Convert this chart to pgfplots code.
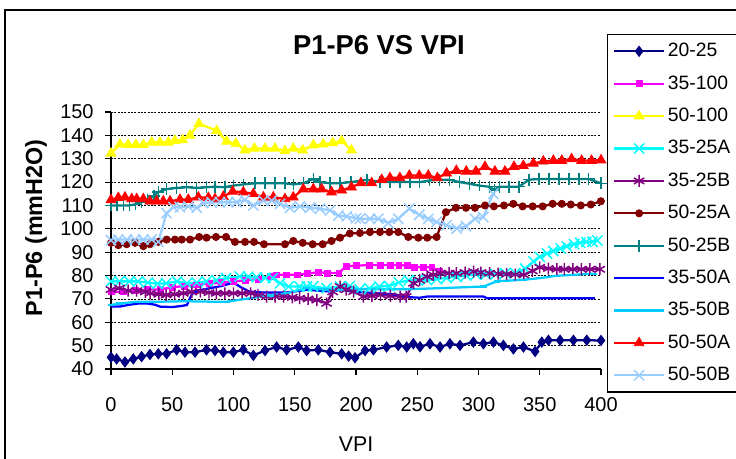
\documentclass[border=0pt]{standalone}
\usepackage{pgfplots}
\pgfplotsset{compat=1.18}
\usepackage{fontspec}
\setmainfont{Liberation Sans}
\definecolor{cnavy}{HTML}{000080}
\definecolor{cmag}{HTML}{FF00FF}
\definecolor{cyel}{HTML}{FFFF00}
\definecolor{ccyan}{HTML}{00FFFF}
\definecolor{cpurp}{HTML}{800080}
\definecolor{cdred}{HTML}{800000}
\definecolor{cteal}{HTML}{008080}
\definecolor{cblue}{HTML}{0000FF}
\definecolor{csky}{HTML}{00CCFF}
\definecolor{cred}{HTML}{FF0000}
\definecolor{clblue}{HTML}{99CCFF}
\newcommand{\lgd}[1]{\makebox[52pt][l]{#1}}
\begin{document}
\begin{tikzpicture}
\useasboundingbox (0pt,0pt) rectangle (552pt,344.25pt);
\clip (0pt,0pt) rectangle (552pt,344.25pt);
\draw[line width=1pt] (3.75pt,-20pt) -- (3.75pt,336.75pt) -- (600pt,336.75pt);
\begin{axis}[
  at={(83.25pt,67.5pt)}, anchor=south west,
  scale only axis, width=367.5pt, height=192.75pt,
  xmin=0, xmax=400, ymin=40, ymax=150,
  xtick={0,50,...,400}, ytick={40,50,...,150},
  axis x line*=bottom, axis y line*=left,
  axis line style={-, line width=1pt},
  tick align=outside, major tick length=4.5pt,
  tick style={black, line width=0.8pt},
  ymajorgrids, major grid style={black, line width=0.6pt, dash pattern=on 1.5pt off 1pt},
  clip=false,
  /pgf/number format/assume math mode=true,
  tick label style={font=\fontsize{15}{17}\selectfont},
  xticklabel style={anchor=center, yshift=-22pt},
  yticklabel style={anchor=east, xshift=-5pt},
  title={P1-P6 VS VPI},
  title style={font=\bfseries\fontsize{20.5}{24}\selectfont, at={(rel axis cs:0.547,1.23)}, anchor=center},
  xlabel={VPI},
  xlabel style={font=\fontsize{16}{18}\selectfont, at={(rel axis cs:0.5,-0.292)}, anchor=center},
  ylabel={P1-P6 (mmH2O)},
  ylabel style={font=\bfseries\fontsize{17.5}{20}\selectfont, at={(rel axis cs:-0.153,0.549)}, anchor=center},
  legend style={at={(rel axis cs:1.0122,1.3035)}, anchor=north west, draw=black, line width=1pt,
    font=\fontsize{14.5}{16}\selectfont, row sep=11.3pt, inner xsep=4pt, inner ysep=6pt,
    nodes={inner ysep=0pt, text height=10.5pt, text depth=2.5pt}},
  legend cell align=left,
  legend image code/.code={\draw[mark repeat=2,mark phase=2] plot coordinates {(0pt,0pt) (18.75pt,0pt) (37.5pt,0pt)};},
  every axis plot/.append style={line width=1.7pt},
]
% 20-25
\addplot[cnavy, mark=diamond*, mark size=3.7pt, mark options={solid,fill=cnavy,line width=0.8pt}] coordinates {
(0,45) (4.6,44.3) (11.4,43) (18.2,44.3) (25,45.3) (31.8,46.2) (38.6,46.5) (45.4,46.5) (53.6,48.2) (60.4,47.2)
(68.6,47.2) (78,48.2) (84.9,47.9) (91.7,47.2) (99.9,47.2) (108,48.2) (116.2,45.8) (125.7,47.9) (135.2,49.4) (143.4,48.2)
(152.9,49.4) (159.7,47.9) (169.2,48.2) (178.8,47.2) (188.3,46.5) (194,45.5) (199.2,44.8) (207.4,47.9) (214.2,48.2) (225,49.4)
(234.5,50.1) (241.4,49.4) (246.8,50.8) (252.3,49.5) (260.4,50.8) (268.6,49.4) (276.7,50.8) (284.9,50.1) (295.8,51.5) (304,50.8)
(312.2,51.5) (320.3,50.1) (328.5,48.6) (336.7,49.4) (346.2,47.5) (351.7,51.5) (357.1,52.3) (366.6,52.3) (377.5,52.3) (388.4,52.3) (400,52.2)};
\addlegendentry{\lgd{20-25}}
% 35-100
\addplot[cmag, mark=square*, mark size=2.2pt, mark options={solid,fill=cmag,line width=0.6pt}] coordinates {
(0,73) (10,73) (20,73.5) (30,74) (40,74) (50,75) (60,75.5) (70,76) (80,76.5) (90,77) (100,77.5) (110,78) (120,78.5)
(130,79.5) (135,80.3) (143,80.3) (152,80.3) (160,80.8) (169,81.4) (177,81.1) (186,81.1) (192,84) (200,84.2) (211,84.5)
(220,84.5) (228,84.5) (235,84.5) (242,84.2) (248,83.5) (255,83.5) (262,83.5) (268,82)};
\addlegendentry{\lgd{35-100}}
% 50-100
\addplot[cyel, mark=triangle*, mark size=4.2pt, mark options={solid,fill=cyel,line width=0.6pt}] coordinates {
(0,132.3) (7.3,136.2) (14,136) (20.4,136) (26.4,136) (33.2,137) (40,137) (46.8,137) (52.2,137.7) (58.5,138) (64.5,140)
(71.8,145) (86.3,142) (94.4,137.4) (102,136.5) (109.4,133.7) (117,134.4) (125.7,134.4) (133.9,134.4) (142,133.4)
(148.8,134.4) (156.5,133.7) (165.2,135.8) (173.3,136.2) (181,136.8) (188.3,137.6) (196.3,133.7)};
\addlegendentry{\lgd{50-100}}
% 35-25A
\addplot[ccyan, mark=x, mark size=5.4pt, mark options={solid,line width=1.1pt}] coordinates {
(0,77.5) (7,77.5) (15,77.5) (22,77.5) (30,77) (38,76.5) (45,76.7) (54,77.5) (62,76.7) (70,77) (78,77.5) (86,78)
(94,78.9) (105,79.6) (112,79.5) (119,79.3) (126,79) (132,78.9) (138,76.7) (145,75.3) (154,75.3) (160,75.3) (165,75.3)
(176,74.6) (187,75.3) (195,75.5) (203,74.1) (211,74.5) (219,75.3) (227,75.5) (235,77) (243,78) (250,78) (258,78)
(266,78.5) (274,79) (282,79.5) (290,80) (298,80.5) (306,80.5) (314,80.5) (322,81) (330,81) (338,83) (345,86) (350,88)
(356,89.4) (361,90.5) (367,91.6) (372,92.5) (378,93.4) (383,94) (388,94.4) (393,94.5) (397,95)};
\addlegendentry{\lgd{35-25A}}
% 35-25B
\addplot[cpurp, mark=asterisk, mark size=4.5pt, mark options={solid,line width=1.1pt}] coordinates {
(0,74) (7,74.6) (14,73.5) (21,73.5) (28,73) (32,72.4) (39,72) (45,71.7) (52,72) (59,72.4) (66,73) (73,73.1) (80,72.7)
(86,72.4) (93,72.4) (100,72.4) (107,72.4) (114,72.4) (120,71.7) (127,71) (134,71) (141,71) (148,70.7) (154,70.3)
(161,70) (168,69.5) (176,68.1) (181,73) (187,75.3) (192,74) (198,73.1) (206,71) (213,71.3) (220,71.7) (228,71.3)
(236,71) (241,71) (247,76.7) (252,78) (258,79.6) (263,80.3) (269,81) (276,81) (282,81) (289,81.3) (296,81.7) (302,81.3)
(309,81) (316,80.8) (323,80.6) (330,80.4) (337,80.3) (344,82) (350,83.5) (357,83) (364,82.7) (370,82.7) (377,82.7)
(384,82.7) (391,82.7) (399,82.7)};
\addlegendentry{\lgd{35-25B}}
% 50-25A
\addplot[cdred, mark=*, mark size=2.7pt, mark options={solid,fill=cdred,line width=0.6pt}] coordinates {
(0,94) (6,93) (12.8,93.4) (19.6,94) (26.4,92.6) (31.8,93.4) (38.6,94.4) (45.4,95.4) (52.2,95.4) (57.7,95.4) (64.5,95.4)
(72,96.5) (78,96.2) (85.7,96.5) (93.9,96.5) (101.2,94.4) (109.4,94.4) (116.7,94.4) (124.9,93.4) (142,93.4) (148.8,94.8)
(156.5,94) (164.6,93.4) (172.8,93.4) (180,94.8) (187,96.2) (195,98) (203.2,98.2) (211.4,98.6) (219.6,98.6) (227.2,98.6)
(234.5,98.6) (242.7,96.5) (250.9,96.2) (258.2,96.2) (265.8,96.5) (273.4,107.1) (281.6,109) (289.8,109) (297.1,109)
(305.3,110) (312.6,109.6) (320.8,110) (328.4,110.7) (336,109.6) (344.2,109.6) (352.4,109.6) (360.5,110.7) (368,110.7)
(375.3,110.4) (383.5,110) (391.7,110.4) (399.9,111.8)};
\addlegendentry{\lgd{50-25A}}
% 50-25B
\addplot[cteal, mark=+, mark size=4.4pt, mark options={solid,line width=1.1pt}] coordinates {
(0,110) (5,110) (10,110) (15,110) (20,110.5) (25,111.5) (30,112.5) (35,114) (38.6,115.7) (45.4,117) (53.6,117.5)
(61.8,117.8) (70,117.5) (78,117.8) (84.9,118) (93,117.8) (99.9,118.5) (108,119) (117.5,119.5) (125.7,119.5) (133.9,119.5)
(142,119.5) (148.8,119) (157,119.5) (165.2,121.3) (170.6,120) (178.8,119.5) (187,119.5) (196,120) (208.8,121) (219.6,120)
(227.7,120) (235.8,120) (244,120) (252,120) (260,120.7) (268.1,121) (276.3,121) (284.4,120) (292.5,119.3) (300.7,118.5)
(308.8,118) (313,116.7) (317,118) (325,118) (333,118) (341.1,121) (349.3,121.3) (357.5,121.3) (365.6,121.3) (373.8,121.3)
(382,121.3) (390,121.3) (400,119.5)};
\addlegendentry{\lgd{50-25B}}
% 35-50A
\addplot[cblue, no marks] coordinates {
(0,66.7) (7,66.7) (15,67.5) (22,68) (30,68) (36,67.5) (40,66.7) (50,66.5) (58,67) (62,67.4) (66,72) (70,73.5) (80,74.5)
(90,75.5) (100,77) (106,75) (113,73.1) (125,72.7) (143,72.7) (160,73.9) (181,73.1) (187,73.9) (200,73) (230,72) (241,71)
(245,70.7) (252,70.5) (258,71) (280,71) (304,71) (307,70.3) (395,70.3)};
\addlegendentry{\lgd{35-50A}}
% 35-50B
\addplot[csky, mark=-, mark size=2.5pt, mark options={solid}] coordinates {
(0,67.4) (7,68) (21,68.8) (40,68.8) (60,69) (83.5,68.8) (94.4,68.8) (110,70) (130,71.5) (143.4,72.4) (159.7,74.6) (175,74)
(186.9,73.9) (203,74.1) (241,74.1) (268.6,74.6) (304,75.3) (315,77.5) (336.6,78.2) (350,78.9) (363.8,79.9) (377.4,80.3)
(393.8,80.8)};
\addlegendentry{\lgd{35-50B}}
% 50-50A
\addplot[cred, mark=triangle*, mark size=4.2pt, mark options={solid,fill=cred,line width=0.6pt}] coordinates {
(0,112.4) (6,113.3) (11.4,113.5) (16.9,112.8) (21,112.8) (26.4,112.8) (31.8,111.8) (37.3,111.8) (42.7,111.8) (48.2,111.8)
(56.3,112.5) (63.1,112.5) (71.3,113.5) (79.5,113.3) (84.9,112.8) (91.7,113.8) (99.3,116) (108,115.7) (116.2,115)
(124.4,113.5) (132.5,113.5) (142,112.8) (148.8,113.5) (157,117) (165.2,117) (172,117) (180,115.7) (188.3,116.5)
(196.3,117.8) (204,119.6) (212.8,119.6) (221,121) (227.7,121.8) (235.8,121.8) (243.5,122.8) (251.6,122.8) (259,122.8)
(266.4,121.8) (274,123.8) (281.9,124.9) (290,124.6) (297.9,124.6) (305.3,126.6) (313.4,124.6) (321.6,124.6) (329,126.6)
(336.6,127) (344.8,128) (352.9,128.9) (361.1,129.2) (368,129.2) (376,129.9) (384.2,129.2) (392.3,129.2) (400,129.4)};
\addlegendentry{\lgd{50-50A}}
% 50-50B
\addplot[clblue, mark=x, mark size=5.4pt, mark options={solid,line width=1.1pt}] coordinates {
(0,95.1) (6,95.4) (12.8,95.4) (19.6,95.4) (26.4,95.4) (33.2,95.4) (38.6,94.4) (45.4,106.7) (51,109.3) (56.3,109.3)
(63.1,109.6) (70,109) (75.4,111) (82.2,111.4) (89,111.4) (95.8,111.4) (102.6,111.4) (109.4,112.4) (116.2,110) (124.4,112.1)
(131.2,112.1) (138,110.7) (146.1,109) (154.3,109.6) (162.4,109) (170.6,108.6) (178.8,107.9) (185.6,105.7) (192.4,105.3)
(200,104.5) (203.2,104.3) (211.4,104.3) (218.2,104.3) (226.3,102.5) (234.5,104.3) (243.5,108.6) (251.6,106) (259,104.3)
(265.8,102.9) (274,101.5) (282.2,100.1) (289.8,101.1) (297.1,104.3) (303.9,105) (312,115)};
\addlegendentry{\lgd{50-50B}}
\end{axis}
\end{tikzpicture}
\end{document}
